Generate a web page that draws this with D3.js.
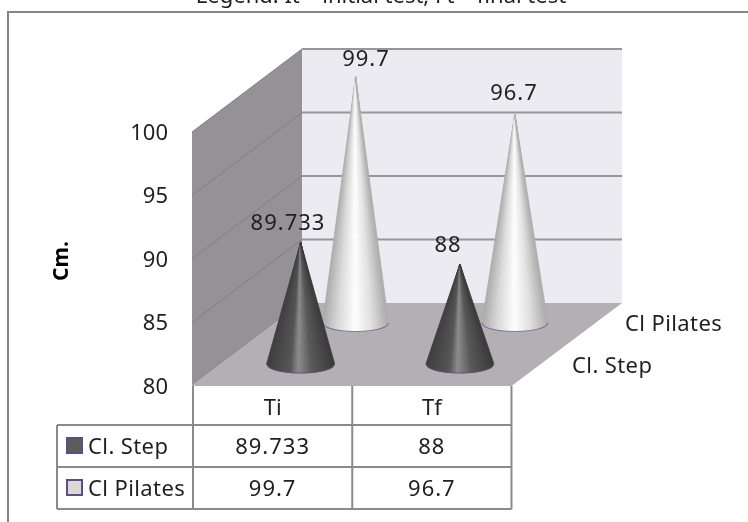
<!DOCTYPE html>
<html><head><meta charset="utf-8">
<style>
html,body{margin:0;padding:0;background:#fff;overflow:hidden}
svg{display:block;filter:blur(0.35px)}
text{font-family:"Noto Sans",sans-serif;fill:#1f1f1f}
</style>
<script src="https://cdn.jsdelivr.net/npm/d3@7"></script>
</head><body>
<svg id="c" width="748" height="522"></svg>
<script>
const title = "Legend: It – initial test, Ft – final test";
const axisTitle = "Cm.";
const categories = ["Ti", "Tf"];
const seriesNames = ["Cl. Step", "Cl Pilates"];
const stepValues = [89.733, 88];
const pilatesValues = [99.7, 96.7];
const yTicks = [80, 85, 90, 95, 100];

const series = [
  {name: seriesNames[1], values: pilatesValues, back: true},
  {name: seriesNames[0], values: stepValues, back: false}
];

const svg = d3.select("#c");
const FS = 22, LS = "1px", LT = "0.4px";
const y = d3.scaleLinear().domain([80, 100]).range([386, 132]);
const coneH = d3.scaleLinear().domain([80, 100]).range([0, 250]);
const x = d3.scaleBand().domain(categories).range([193, 511.5]);
const dx = 110, dy = 83;
const grey = "#8a8a8a";

// frame
svg.append("path").attr("d", "M748,12H8V522").attr("fill", "none").attr("stroke", "#868686").attr("stroke-width", 2);
svg.append("text").text(title).attr("x", 381).attr("y", 3).attr("text-anchor", "middle").attr("font-size", 22);

// walls & floor
const x0 = x.range()[0] - 1, x1 = x.range()[1];
const line = d3.line();
svg.append("path").attr("d", line([[x0, y(100)], [x0 + dx, y(100) - dy], [x0 + dx, y(80) - dy], [x0, y(80)]]) + "Z").attr("fill", "#949296");
svg.append("path").attr("d", line([[x0 + dx, y(100) - dy], [x1 + dx + 0.5, y(100) - dy], [x1 + dx + 0.5, y(80) - dy], [x0 + dx, y(80) - dy]]) + "Z").attr("fill", "#ecebf1");
yTicks.filter(t => t > 80).forEach(t => {
  svg.append("path").attr("d", line([[x0, y(t)], [x0 + dx, y(t) - dy]])).attr("stroke", "#7f7f82").attr("stroke-width", 1).attr("fill", "none");
  svg.append("path").attr("d", line([[x0 + dx, y(t) - dy], [x1 + dx + 0.5, y(t) - dy]])).attr("stroke", "#97979a").attr("stroke-width", 2).attr("fill", "none");
});
svg.append("path").attr("d", line([[x0, y(80)], [x0 + dx, y(80) - dy], [x1 + dx + 0.5, y(80) - dy], [x1, y(80)]]) + "Z").attr("fill", "#b3afb4");

// y tick labels
yTicks.forEach(t => svg.append("text").text(t).attr("x", 168).attr("y", y(t)).attr("dy", "0.36em").attr("text-anchor", "end").attr("font-size", FS));
svg.append("text").text(axisTitle).attr("transform", "translate(68,261) rotate(-90)").attr("text-anchor", "middle").attr("font-size", 21).attr("font-weight", "bold").style("fill", "#000");

// cones
const shadeDark = d3.scaleLinear().domain([0, .35, .47, .52, .68, 1]).range(["#3e3e3e", "#555555", "#8c8c8c", "#808080", "#585858", "#3a3a3a"]);
const shadeLight = d3.scaleLinear().domain([0, .25, .5, .75, 1]).range(["#aaaaaa", "#dcdcdc", "#ffffff", "#e0e0e0", "#acacac"]);
const N = 40;
series.forEach(s => {
  const off = s.back ? 83 : 28, baseY = s.back ? 323 : 364, r = s.back ? 33 : 34, ry = s.back ? 8.5 : 9;
  const shade = s.back ? shadeLight : shadeDark;
  categories.forEach((c, i) => {
    const v = s.values[i];
    const cx = x(c) + x.bandwidth() / 2 + off, tip = baseY - coneH(v);
    const g = svg.append("g");
    const basePt = u => [cx - r + 2 * r * u, baseY + ry * Math.sqrt(Math.max(0, 1 - (2 * u - 1) ** 2))];
    d3.range(N).forEach(k => {
      const a = basePt(k / N), b = basePt((k + 1) / N), col = shade((k + .5) / N);
      g.append("path").attr("d", line([[cx, tip], a, b]) + "Z").attr("fill", col).attr("stroke", col).attr("stroke-width", .8);
    });
    g.append("path").attr("d", line(d3.range(N + 1).map(k => basePt(k / N)))).attr("fill", "none").attr("stroke", "#5f4d86").attr("stroke-width", 1).attr("stroke-opacity", .8);
  });
});

// data labels
const labelPos = {"Cl. Step": [[288, 222], [448, 244]], "Cl Pilates": [[366, 58], [514, 92]]};
series.forEach(s => s.values.forEach((v, i) => {
  const p = labelPos[s.name][i];
  svg.append("text").text(v).attr("x", p[0]).attr("y", p[1]).attr("dy", "0.36em").attr("text-anchor", "middle").attr("font-size", FS).style("letter-spacing", LS);
}));

// series names on depth axis
svg.append("text").text(seriesNames[1]).attr("x", 625).attr("y", 323).attr("dy", "0.36em").attr("font-size", FS).style("letter-spacing", LT);
svg.append("text").text(seriesNames[0]).attr("x", 572).attr("y", 365).attr("dy", "0.36em").attr("font-size", FS).style("letter-spacing", LT);

// data table
const rowY = [386, 425, 467, 509], tableLeft = 57;
const tbl = svg.append("g").attr("stroke", grey).attr("stroke-width", 2).attr("fill", "none");
[...x.domain().map(c => x(c)), x1].forEach(vx => tbl.append("path").attr("d", `M${vx},${rowY[0]}V${rowY[3]}`));
tbl.append("path").attr("d", `M${tableLeft},${rowY[1]}V${rowY[3]}`);
rowY.slice(1).forEach(ry => tbl.append("path").attr("d", `M${tableLeft},${ry}H${x1}`));
categories.forEach(c => svg.append("text").text(c).attr("x", x(c) + x.bandwidth() / 2).attr("y", (rowY[0] + rowY[1]) / 2 + 2).attr("dy", "0.36em").attr("text-anchor", "middle").attr("font-size", FS));
[[seriesNames[0], stepValues, "#5c5c5c"], [seriesNames[1], pilatesValues, "#d9d9d9"]].forEach(([n, vals, col], r) => {
  const my = (rowY[r + 1] + rowY[r + 2]) / 2;
  svg.append("rect").attr("x", 67).attr("y", my - 8).attr("width", 15).attr("height", 15).attr("fill", col).attr("stroke", "#5f4d86").attr("stroke-width", 2);
  svg.append("text").text(n).attr("x", 88).attr("y", my).attr("dy", "0.36em").attr("font-size", FS).style("letter-spacing", LT);
  categories.forEach((c, i) => svg.append("text").text(vals[i]).attr("x", x(c) + x.bandwidth() / 2).attr("y", my).attr("dy", "0.36em").attr("text-anchor", "middle").attr("font-size", FS).style("letter-spacing", LS));
});
</script>
</body></html>
